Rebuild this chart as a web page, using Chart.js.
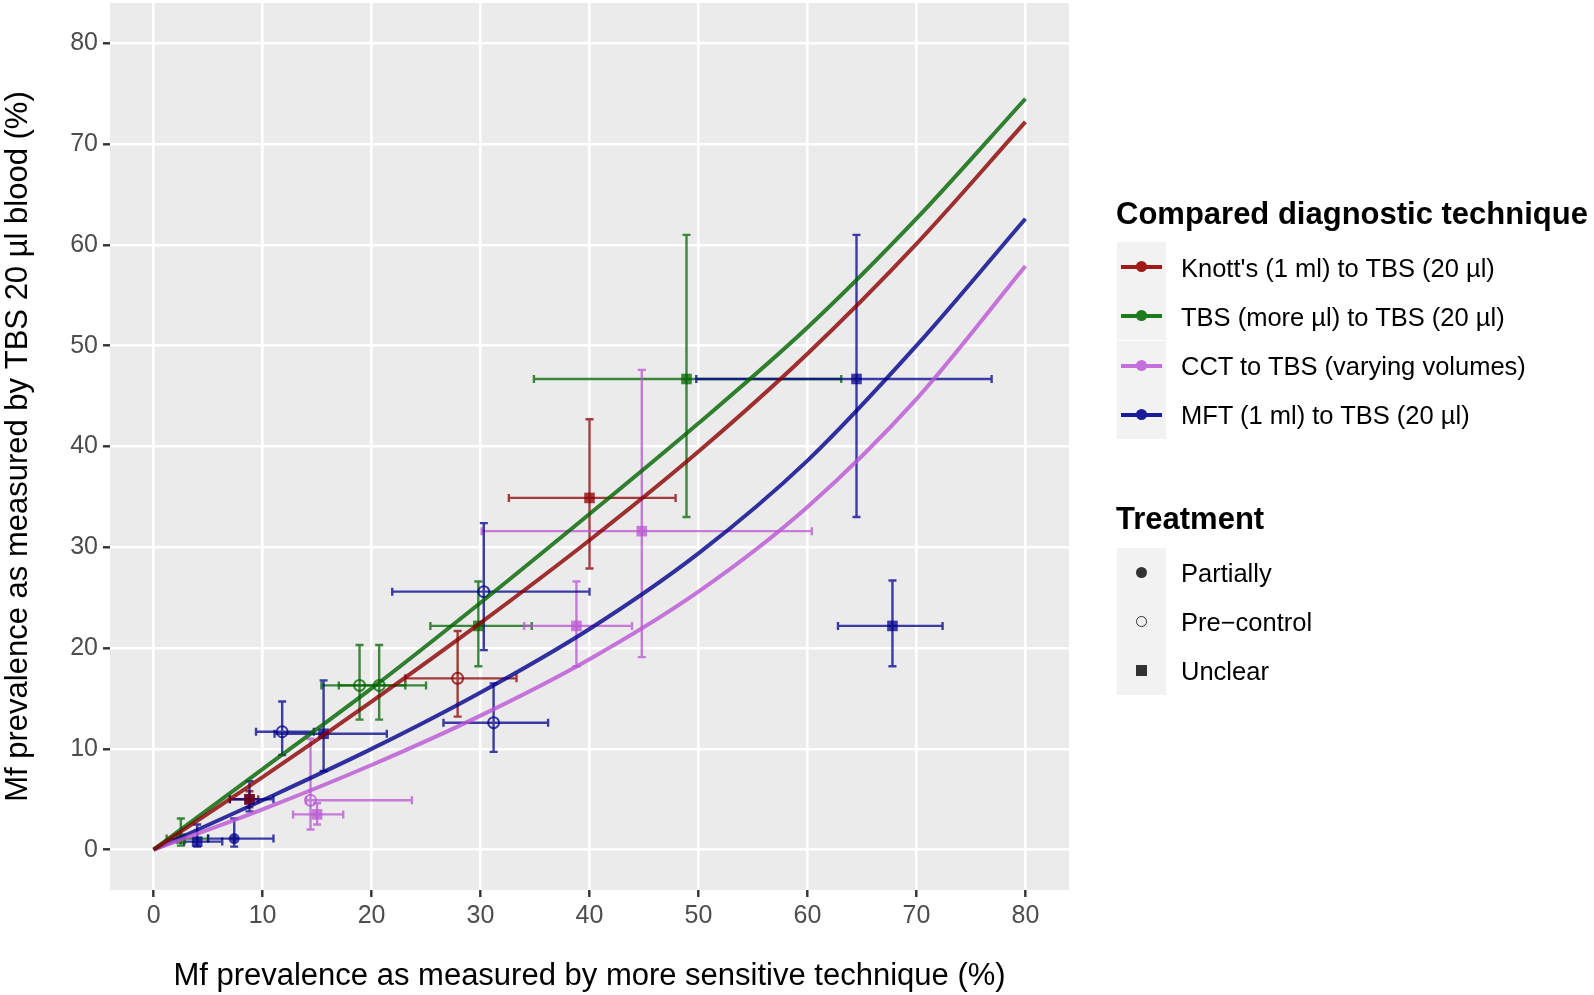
<!DOCTYPE html>
<html lang="en">
<head>
  <meta charset="UTF-8" />
  <title>Mf prevalence comparison</title>
  <script src="https://cdn.jsdelivr.net/npm/chart.js"></script>
  <style>
    body { margin: 0; background: #fff; font-family: 'Liberation Sans', Arial, sans-serif; }
    #wrap { position: relative; width: 1594px; height: 995px; overflow: hidden; }
    #chart { position: absolute; left: 0; top: 0; }
    .lg { position: absolute; white-space: nowrap; color: #000; }
    .lg-title { font-size: 31px; line-height: 31px; font-weight: bold; }
    .lg-label { font-size: 25.5px; line-height: 26px; }
    .key { position: absolute; left: 1117px; width: 49px; height: 49px; background: #f2f2f2; }
    .key .ln { position: absolute; left: 4px; width: 41px; top: 23px; height: 3.5px; }
    .key .dot { position: absolute; left: 19px; top: 19px; width: 11px; height: 11px; border-radius: 50%; }
    .key .sym { position: absolute; left: 19px; top: 19px; width: 11px; height: 11px; box-sizing: border-box; }
  </style>
</head>
<body>
<div id="wrap">
  <canvas id="chart" width="1594" height="995"></canvas>

  <!-- legend: technique -->
  <div class="lg lg-title" style="left:1116px; top:198px;">Compared diagnostic technique</div>
  <div class="key" style="top:242px;"><div class="ln" style="background:#a11a1a"></div><div class="dot" style="background:#a11a1a"></div></div>
  <div class="key" style="top:291px;"><div class="ln" style="background:#1d7a1d"></div><div class="dot" style="background:#1d7a1d"></div></div>
  <div class="key" style="top:341px;"><div class="ln" style="background:#c46fdb"></div><div class="dot" style="background:#c46fdb"></div></div>
  <div class="key" style="top:390px;"><div class="ln" style="background:#1a1a9a"></div><div class="dot" style="background:#1a1a9a"></div></div>
  <div class="lg lg-label" style="left:1181px; top:255px;">Knott's (1 ml) to TBS (20 µl)</div>
  <div class="lg lg-label" style="left:1181px; top:304px;">TBS (more µl) to TBS (20 µl)</div>
  <div class="lg lg-label" style="left:1181px; top:353px;">CCT to TBS (varying volumes)</div>
  <div class="lg lg-label" style="left:1181px; top:402px;">MFT (1 ml) to TBS (20 µl)</div>

  <!-- legend: treatment -->
  <div class="lg lg-title" style="left:1116px; top:503px;">Treatment</div>
  <div class="key" style="top:548px;"><div class="sym" style="background:#333; border-radius:50%"></div></div>
  <div class="key" style="top:597px;"><div class="sym" style="border:1.8px solid #333; border-radius:50%"></div></div>
  <div class="key" style="top:646px;"><div class="sym" style="background:#333"></div></div>
  <div class="lg lg-label" style="left:1181px; top:560px;">Partially</div>
  <div class="lg lg-label" style="left:1181px; top:609px;">Pre−control</div>
  <div class="lg lg-label" style="left:1181px; top:658px;">Unclear</div>
</div>

<script>
  // axis ticks
  const xTicks = [0, 10, 20, 30, 40, 50, 60, 70, 80];
  const yTicks = [0, 10, 20, 30, 40, 50, 60, 70, 80];

  // fitted curves
  const curveX = [0, 10, 20, 30, 40, 50, 60, 70, 80];
  const knottsCurve = [0, 7.2, 14.7, 22.5, 30.7, 39.5, 49.2, 60.1, 72.2];
  const tbsCurve = [0, 8.0, 16.0, 24.5, 33.3, 42.3, 51.8, 62.6, 74.5];
  const cctCurve = [0, 4.0, 8.4, 13.3, 18.9, 25.6, 34.0, 44.7, 57.9];
  const mftCurve = [0, 4.9, 10.0, 15.6, 21.9, 29.4, 38.6, 50.0, 62.6];

  // Knott's (1 ml) to TBS (20 µl)
  const knottsX = [40.0, 27.9, 8.8];
  const knottsY = [34.9, 17.0, 5.0];
  const knottsXLo = [32.6, 23.1, 7.0];
  const knottsXHi = [47.9, 33.3, 9.6];
  const knottsYLo = [27.9, 13.2, 4.2];
  const knottsYHi = [42.7, 21.7, 5.8];
  const knottsTreat = ['Unclear', 'Pre-control', 'Unclear'];

  // TBS (more µl) to TBS (20 µl)
  const tbsX = [48.9, 29.8, 18.9, 20.7, 2.5];
  const tbsY = [46.7, 22.2, 16.3, 16.3, 1.1];
  const tbsXLo = [34.9, 25.4, 15.4, 17.0, 1.2];
  const tbsXHi = [63.1, 34.7, 23.1, 25.0, 5.0];
  const tbsYLo = [33.0, 18.2, 12.9, 12.9, 0.4];
  const tbsYHi = [61.0, 26.6, 20.3, 20.3, 3.1];
  const tbsTreat = ['Unclear', 'Unclear', 'Pre-control', 'Pre-control', 'Unclear'];

  // CCT to TBS (varying volumes)
  const cctX = [44.8, 38.8, 14.4, 15.0];
  const cctY = [31.6, 22.2, 4.9, 3.5];
  const cctXLo = [30.1, 34.0, 14.0, 12.8];
  const cctXHi = [60.4, 43.9, 23.7, 17.4];
  const cctYLo = [19.1, 18.2, 2.0, 2.5];
  const cctYHi = [47.6, 26.6, 11.0, 4.6];
  const cctTreat = ['Unclear', 'Unclear', 'Pre-control', 'Unclear'];

  // MFT (1 ml) to TBS (20 µl)
  const mftX = [64.5, 67.8, 30.3, 31.2, 11.8, 15.6, 8.8, 7.4, 4.0];
  const mftY = [46.7, 22.2, 25.6, 12.6, 11.7, 11.5, 5.0, 1.1, 0.8];
  const mftXLo = [49.8, 62.8, 21.9, 26.6, 9.4, 11.1, 7.0, 5.0, 2.8];
  const mftXHi = [76.9, 72.4, 40.0, 36.2, 14.7, 21.4, 11.0, 11.0, 6.3];
  const mftYLo = [33.0, 18.2, 19.8, 9.7, 9.4, 7.8, 3.8, 0.3, 0.3];
  const mftYHi = [61.0, 26.7, 32.4, 16.5, 14.7, 16.8, 6.8, 3.1, 2.5];
  const mftTreat = ['Unclear', 'Unclear', 'Pre-control', 'Pre-control', 'Pre-control', 'Unclear', 'Unclear', 'Partially', 'Unclear'];

  const colors = {
    knotts: [139, 0, 0],
    tbs: [0, 100, 0],
    cct: [186, 85, 211],
    mft: [0, 0, 139]
  };
  const rgba = (c, a) => `rgba(${c[0]},${c[1]},${c[2]},${a})`;

  function curveDataset(label, ys, col) {
    return {
      label,
      data: curveX.map((x, i) => ({ x, y: ys[i] })),
      showLine: true,
      borderColor: rgba(col, 0.8),
      borderWidth: 4,
      pointRadius: 0,
      cubicInterpolationMode: 'monotone',
      order: 0
    };
  }

  function pointDataset(label, xs, ys, xlo, xhi, ylo, yhi, treat, col) {
    const fill = rgba(col, 0.75);
    return {
      label,
      data: xs.map((x, i) => ({ x, y: ys[i] })),
      errX: [xlo, xhi],
      errY: [ylo, yhi],
      barColor: rgba(col, 0.75),
      pointStyle: treat.map(t => t === 'Unclear' ? 'rect' : 'circle'),
      pointRadius: treat.map(t => t === 'Unclear' ? 7.5 : 5.5),
      backgroundColor: treat.map(t => t === 'Pre-control' ? 'rgba(0,0,0,0)' : fill),
      borderColor: fill,
      borderWidth: treat.map(t => t === 'Pre-control' ? 2 : 0),
      order: 1
    };
  }

  // panel background
  const panelBg = {
    id: 'panelBg',
    beforeDraw(chart) {
      const { ctx, chartArea: a } = chart;
      ctx.save();
      ctx.fillStyle = '#ebebeb';
      ctx.fillRect(a.left, a.top, a.right - a.left, a.bottom - a.top);
      ctx.restore();
    }
  };

  // horizontal and vertical error bars
  const errorBars = {
    id: 'errorBars',
    beforeDatasetsDraw(chart) {
      const { ctx, chartArea: a, scales: { x, y } } = chart;
      const cap = 4;
      ctx.save();
      ctx.beginPath();
      ctx.rect(a.left, a.top, a.right - a.left, a.bottom - a.top);
      ctx.clip();
      ctx.lineWidth = 2.4;
      chart.data.datasets.forEach(ds => {
        if (!ds.errX) return;
        ctx.strokeStyle = ds.barColor;
        ds.data.forEach((p, i) => {
          const px = x.getPixelForValue(p.x), py = y.getPixelForValue(p.y);
          const x0 = x.getPixelForValue(ds.errX[0][i]), x1 = x.getPixelForValue(ds.errX[1][i]);
          const y0 = y.getPixelForValue(ds.errY[0][i]), y1 = y.getPixelForValue(ds.errY[1][i]);
          ctx.beginPath();
          ctx.moveTo(x0, py); ctx.lineTo(x1, py);
          ctx.moveTo(x0, py - cap); ctx.lineTo(x0, py + cap);
          ctx.moveTo(x1, py - cap); ctx.lineTo(x1, py + cap);
          ctx.moveTo(px, y0); ctx.lineTo(px, y1);
          ctx.moveTo(px - cap, y0); ctx.lineTo(px + cap, y0);
          ctx.moveTo(px - cap, y1); ctx.lineTo(px + cap, y1);
          ctx.stroke();
        });
      });
      ctx.restore();
    }
  };

  const tickFont = { family: "'Liberation Sans', Arial, sans-serif", size: 25 };
  const titleFont = { family: "'Liberation Sans', Arial, sans-serif", size: 31 };
  const gridOpts = { color: '#ffffff', lineWidth: 2.6, tickColor: '#333333', tickWidth: 2.4, tickLength: 7 };

  new Chart(document.getElementById('chart'), {
    type: 'scatter',
    data: {
      datasets: [
        curveDataset("Knott's (1 ml) to TBS (20 µl)", knottsCurve, colors.knotts),
        curveDataset('TBS (more µl) to TBS (20 µl)', tbsCurve, colors.tbs),
        curveDataset('CCT to TBS (varying volumes)', cctCurve, colors.cct),
        curveDataset('MFT (1 ml) to TBS (20 µl)', mftCurve, colors.mft),
        pointDataset("Knott's (1 ml) to TBS (20 µl)", knottsX, knottsY, knottsXLo, knottsXHi, knottsYLo, knottsYHi, knottsTreat, colors.knotts),
        pointDataset('TBS (more µl) to TBS (20 µl)', tbsX, tbsY, tbsXLo, tbsXHi, tbsYLo, tbsYHi, tbsTreat, colors.tbs),
        pointDataset('CCT to TBS (varying volumes)', cctX, cctY, cctXLo, cctXHi, cctYLo, cctYHi, cctTreat, colors.cct),
        pointDataset('MFT (1 ml) to TBS (20 µl)', mftX, mftY, mftXLo, mftXHi, mftYLo, mftYHi, mftTreat, colors.mft)
      ]
    },
    options: {
      responsive: false,
      animation: false,
      devicePixelRatio: 1,
      layout: { autoPadding: false, padding: { left: 0, top: 3, right: 525, bottom: 0 } },
      plugins: { legend: { display: false }, tooltip: { enabled: false } },
      scales: {
        x: {
          type: 'linear',
          min: -4, max: 84,
          afterBuildTicks: s => { s.ticks = xTicks.map(v => ({ value: v })); },
          afterFit: s => { s.height = 105; s.paddingLeft = 0; s.paddingRight = 0; },
          grid: gridOpts,
          border: { display: false },
          ticks: { font: tickFont, color: '#4d4d4d', padding: 4 },
          title: { display: true, text: 'Mf prevalence as measured by more sensitive technique (%)', font: titleFont, color: '#000', padding: { top: 0, bottom: 0 } }
        },
        y: {
          type: 'linear',
          min: -4, max: 84,
          afterBuildTicks: s => { s.ticks = yTicks.map(v => ({ value: v })); },
          afterFit: s => { s.width = 110; s.paddingTop = 0; s.paddingBottom = 0; },
          grid: gridOpts,
          border: { display: false },
          ticks: { font: tickFont, color: '#4d4d4d', padding: 5 },
          title: { display: true, text: 'Mf prevalence as measured by TBS 20 µl blood (%)', font: titleFont, color: '#000', padding: { top: 0, bottom: 0 } }
        }
      }
    },
    plugins: [panelBg, errorBars]
  });
</script>
</body>
</html>
